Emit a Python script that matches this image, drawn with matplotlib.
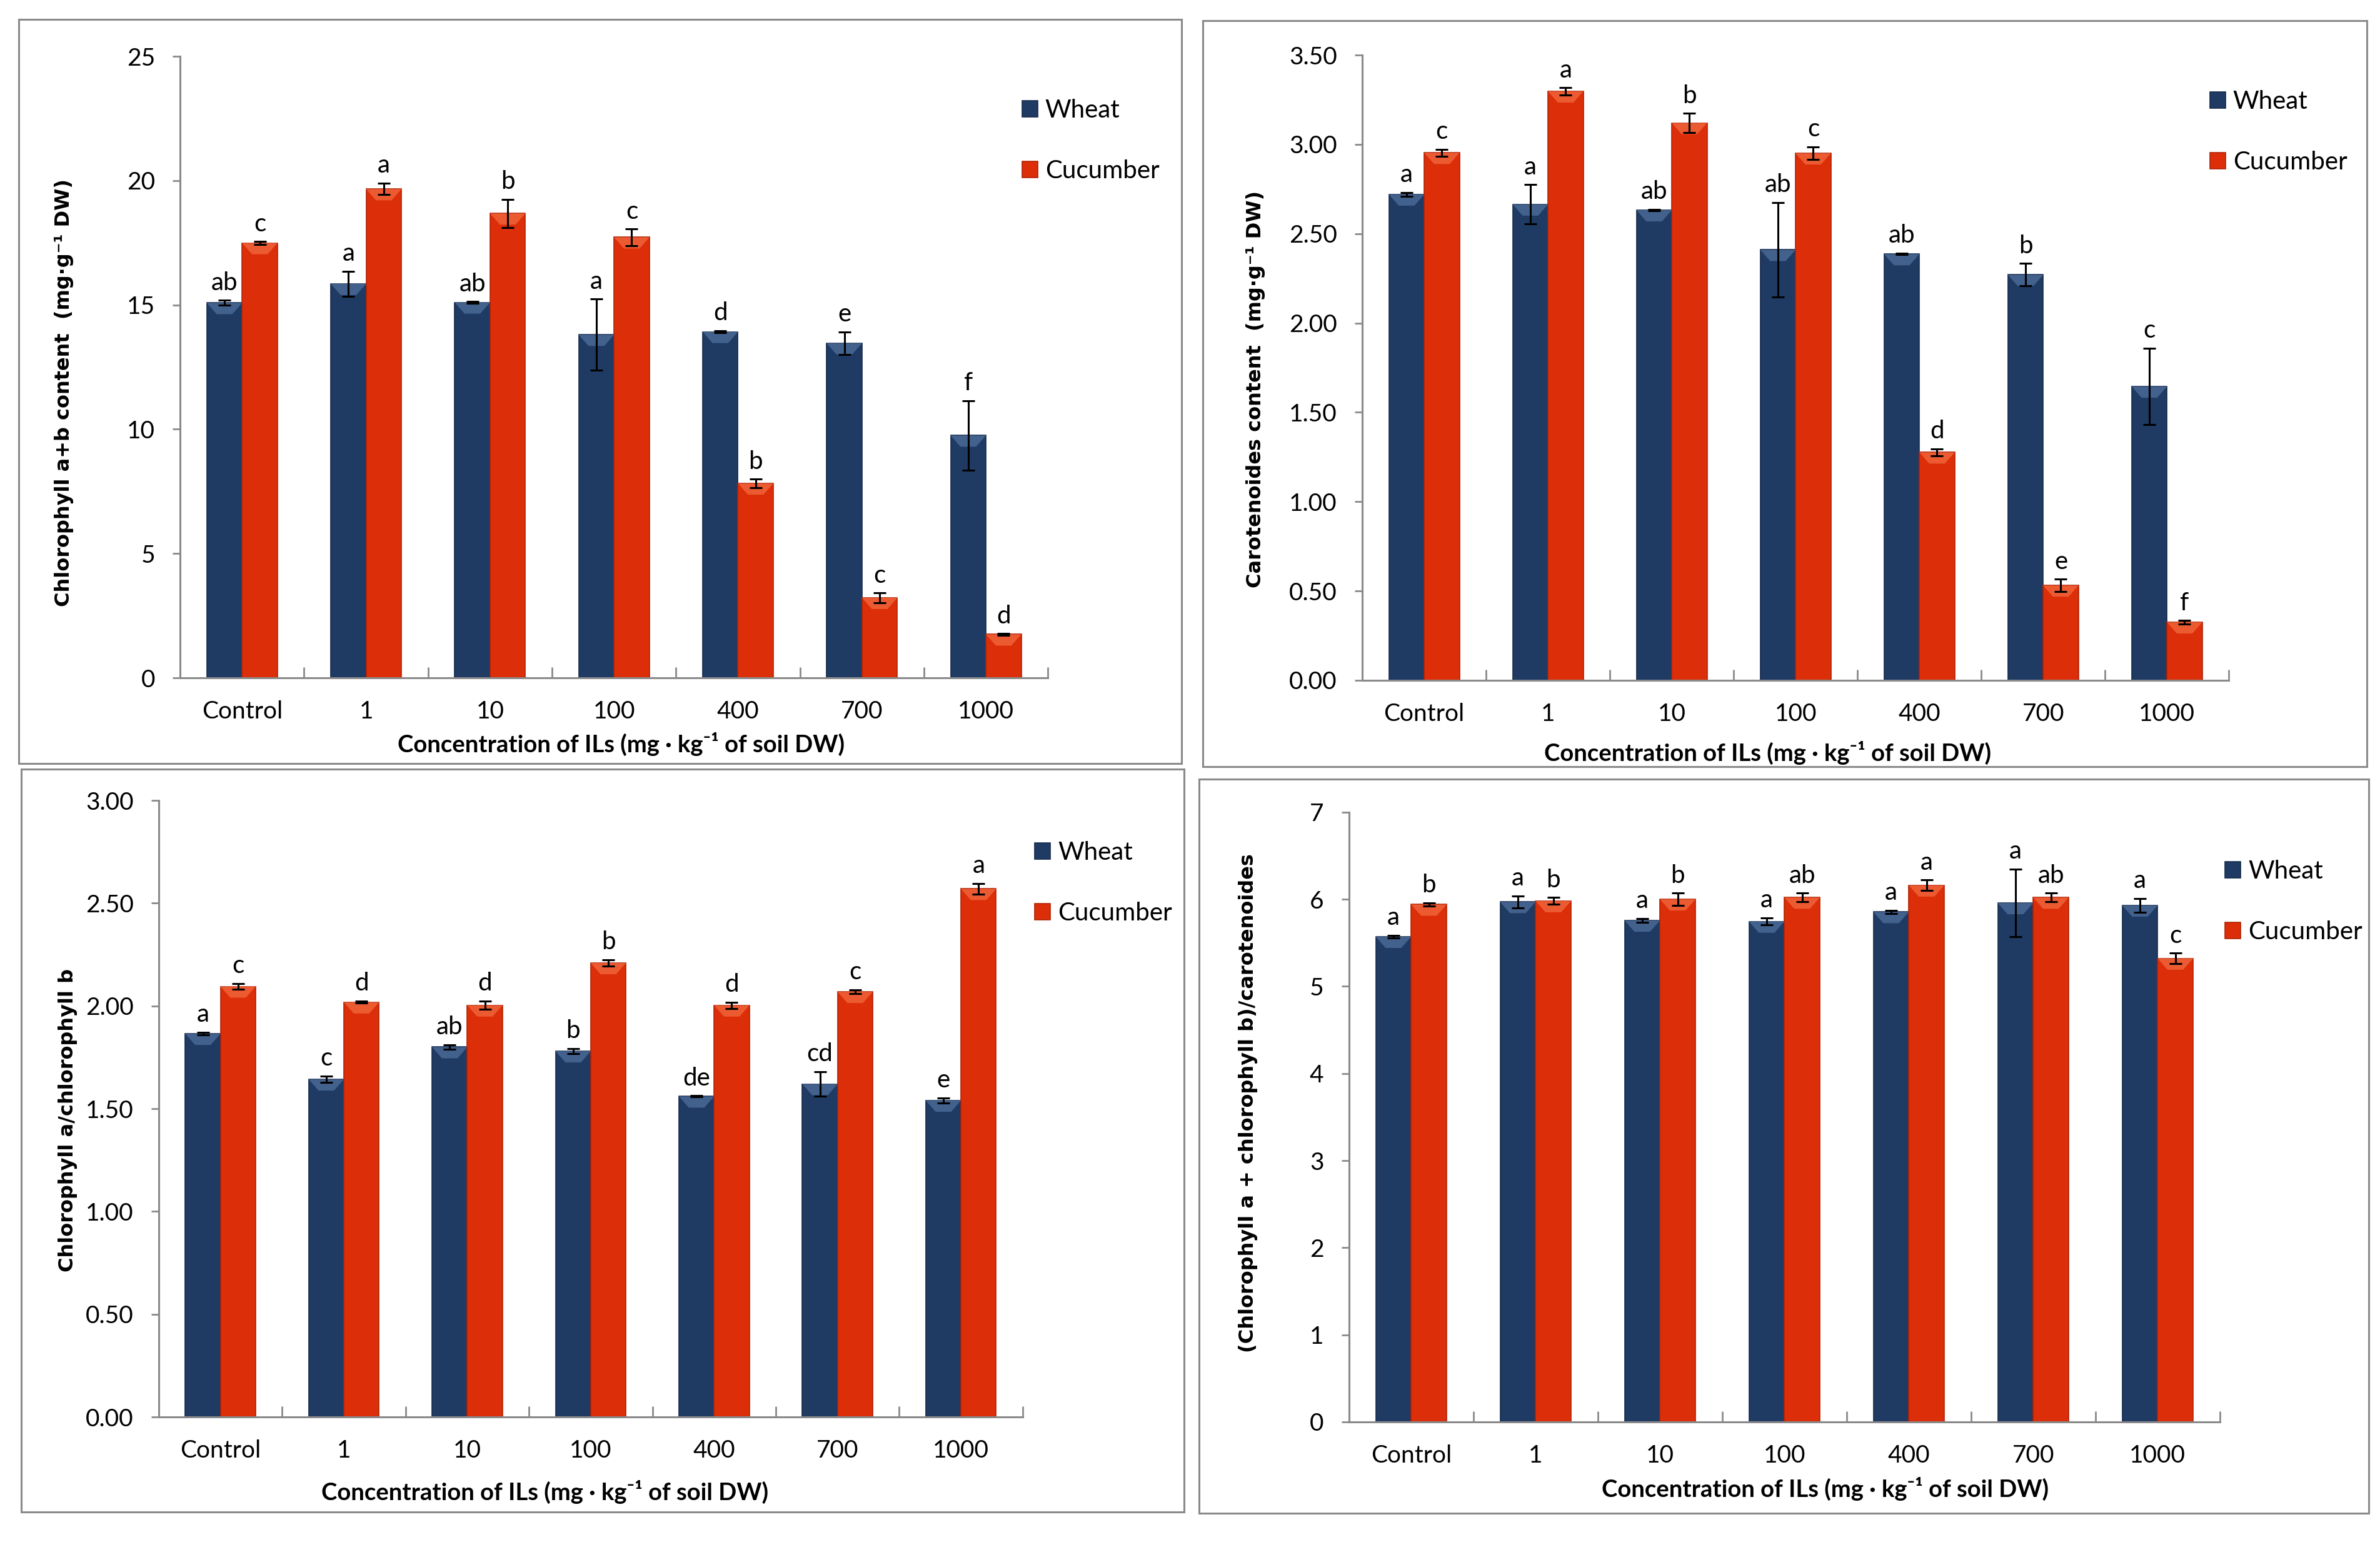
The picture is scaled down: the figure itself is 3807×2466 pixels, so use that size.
import matplotlib.pyplot as plt
import numpy as np
from matplotlib.patches import Rectangle, Polygon

# concentration groups
conc = ['Control', '1', '10', '100', '400', '700', '1000']

# chlorophyll a+b content
chl_wheat = [15.08, 15.85, 15.1, 13.8, 13.92, 13.46, 9.75]
chl_wheat_err = [0.1, 0.5, 0.03, 1.43, 0.04, 0.45, 1.4]
chl_cuc = [17.49, 19.66, 18.68, 17.72, 7.82, 3.22, 1.75]
chl_cuc_err = [0.06, 0.23, 0.57, 0.33, 0.17, 0.19, 0.03]
chl_wheat_let = ['ab', 'a', 'ab', 'a', 'd', 'e', 'f']
chl_cuc_let = ['c', 'a', 'b', 'c', 'b', 'c', 'd']

# carotenoides content
car_wheat = [2.72, 2.664, 2.632, 2.41, 2.386, 2.27, 1.645]
car_wheat_err = [0.01, 0.11, 0.005, 0.265, 0.004, 0.063, 0.213]
car_cuc = [2.953, 3.297, 3.12, 2.95, 1.276, 0.531, 0.325]
car_cuc_err = [0.02, 0.02, 0.053, 0.035, 0.02, 0.035, 0.01]
car_wheat_let = ['a', 'a', 'ab', 'ab', 'ab', 'b', 'c']
car_cuc_let = ['c', 'a', 'b', 'c', 'd', 'e', 'f']

# chlorophyll a / chlorophyll b
ab_wheat = [1.865, 1.643, 1.80, 1.78, 1.56, 1.62, 1.54]
ab_wheat_err = [0.006, 0.015, 0.01, 0.012, 0.003, 0.06, 0.012]
ab_cuc = [2.095, 2.018, 2.003, 2.209, 2.003, 2.069, 2.57]
ab_cuc_err = [0.015, 0.005, 0.02, 0.015, 0.015, 0.01, 0.025]
ab_wheat_let = ['a', 'c', 'ab', 'b', 'de', 'cd', 'e']
ab_cuc_let = ['c', 'd', 'd', 'b', 'd', 'c', 'a']

# (chl a + chl b) / carotenoides
rat_wheat = [5.57, 5.97, 5.757, 5.745, 5.855, 5.957, 5.93]
rat_wheat_err = [0.015, 0.07, 0.02, 0.04, 0.02, 0.39, 0.08]
rat_cuc = [5.94, 5.98, 6.0, 6.02, 6.16, 6.02, 5.32]
rat_cuc_err = [0.02, 0.04, 0.07, 0.05, 0.06, 0.05, 0.06]
rat_wheat_let = ['a', 'a', 'a', 'a', 'a', 'a', 'a']
rat_cuc_let = ['b', 'b', 'b', 'ab', 'a', 'ab', 'c']

NAVY = '#1f3b64'
RED = '#dc2e08'
GREY = '#8a8a8a'
TXT = ['Lato', 'DejaVu Sans']

fig = plt.figure(figsize=(38.07, 24.66), dpi=100)

# panel frames
for (x0, y0, x1, y1) in [(30, 31, 1890, 1221), (1924, 33, 3786, 1226),
                         (34, 1230, 1894, 2418), (1918, 1246, 3789, 2420)]:
    fig.patches.append(Rectangle((x0 / 3807, 1 - y1 / 2466), (x1 - x0) / 3807, (y1 - y0) / 2466,
                                 transform=fig.transFigure, fill=False, edgecolor=GREY, lw=2.2))


def bevel(ax, bars, color, ymax, h_frac):
    # light triangle at the top of each bar, like the excel bevel
    dy = ymax * h_frac
    for b in bars:
        x0 = b.get_x()
        bw = b.get_width()
        top = b.get_height()
        pts = [(x0, top), (x0 + bw, top), (x0 + bw * 0.72, top - dy), (x0 + bw * 0.28, top - dy)]
        ax.add_patch(Polygon(pts, closed=True, facecolor=color, edgecolor='none',
                             alpha=0.75, zorder=2.5))


def panel(rect, wheat, werr, cuc, cerr, wlet, clet, ymax, ystep, fmt, ylabel,
          ylab_pos, xlab_pos, leg_pos):
    ax = fig.add_axes(rect)
    x = np.arange(len(conc))
    w = 0.285
    ekw = dict(ecolor='black', elinewidth=2.2, capsize=7, capthick=2.2, zorder=3)
    b1 = ax.bar(x - w / 2, wheat, w, color=NAVY, edgecolor='#15294a', lw=1.2,
                yerr=werr, error_kw=ekw, label='Wheat', zorder=2)
    b2 = ax.bar(x + w / 2, cuc, w, color=RED, edgecolor='#b02206', lw=1.2,
                yerr=cerr, error_kw=ekw, label='Cucumber', zorder=2)
    # 18 px of bevel over the axes height
    h_frac = 18 / (rect[3] * 2466)
    bevel(ax, b1, '#4f6f9c', ymax, h_frac)
    bevel(ax, b2, '#f26a40', ymax, h_frac)
    for i in range(len(conc)):
        ax.annotate(wlet[i], (x[i] - w / 2, wheat[i] + werr[i]), xytext=(0, 7),
                    textcoords='offset points', ha='center', va='bottom',
                    fontsize=29, family=TXT)
        ax.annotate(clet[i], (x[i] + w / 2, cuc[i] + cerr[i]), xytext=(0, 7),
                    textcoords='offset points', ha='center', va='bottom',
                    fontsize=29, family=TXT)

    ax.set_xlim(-0.5, len(conc) - 0.5)
    ax.set_ylim(0, ymax)
    yt = np.arange(0, ymax + ystep / 2, ystep)
    ax.set_yticks(yt)
    ax.set_yticklabels([fmt % v for v in yt], fontsize=28, family=TXT)
    ax.set_xticks(x)
    ax.set_xticklabels(conc, fontsize=28, family=TXT)
    ax.set_xticks(np.arange(-0.5, len(conc)), minor=True)
    ax.tick_params(axis='x', which='major', length=0, pad=26)
    ax.tick_params(axis='x', which='minor', direction='in', length=12, width=2, color=GREY)
    ax.tick_params(axis='y', length=9, width=2, color=GREY, pad=20)
    for s in ['top', 'right']:
        ax.spines[s].set_visible(False)
    for s in ['left', 'bottom']:
        ax.spines[s].set_color(GREY)
        ax.spines[s].set_linewidth(2.2)

    ax.set_ylabel(ylabel, fontsize=23, fontweight='bold', family='DejaVu Sans')
    ax.yaxis.set_label_coords(*ylab_pos)
    ax.set_xlabel('Concentration of ILs (mg · kg⁻¹ of soil DW)', fontsize=27.5,
                  fontweight='bold', family=TXT)
    ax.xaxis.set_label_coords(*xlab_pos)

    ax.legend(loc='center left', bbox_to_anchor=leg_pos, frameon=False,
              prop={'family': TXT, 'size': 29}, handlelength=0.62, handleheight=0.62,
              handletextpad=0.3, labelspacing=1.5, borderpad=0, borderaxespad=0)
    return ax


panel([0.0757, 0.5604, 0.3646, 0.4031], chl_wheat, chl_wheat_err, chl_cuc, chl_cuc_err,
      chl_wheat_let, chl_cuc_let, 25, 5, '%d',
      'Chlorophyll a+b content  (mg·g⁻¹ DW)', (-0.1225, 0.459), (0.508, -0.087),
      (0.970, 0.864))

panel([0.5724, 0.5588, 0.3641, 0.4055], car_wheat, car_wheat_err, car_cuc, car_cuc_err,
      car_wheat_let, car_cuc_let, 3.5, 0.5, '%.2f',
      'Carotenoides content  (mg·g⁻¹ DW)', (-0.112, 0.466), (0.468, -0.097),
      (0.978, 0.877))

panel([0.0667, 0.0811, 0.3630, 0.3998], ab_wheat, ab_wheat_err, ab_cuc, ab_cuc_err,
      ab_wheat_let, ab_cuc_let, 3.0, 0.5, '%.2f',
      'Chlorophyll a/chlorophyll b', (-0.094, 0.481), (0.447, -0.102),
      (1.014, 0.866))

panel([0.5668, 0.0779, 0.3659, 0.3954], rat_wheat, rat_wheat_err, rat_cuc, rat_cuc_err,
      rat_wheat_let, rat_cuc_let, 7, 1, '%d',
      '(Chlorophyll a + chlorophyll b)/carotenoides', (-0.105, 0.523), (0.547, -0.09),
      (1.006, 0.853))

plt.savefig('out.png', dpi=100)
